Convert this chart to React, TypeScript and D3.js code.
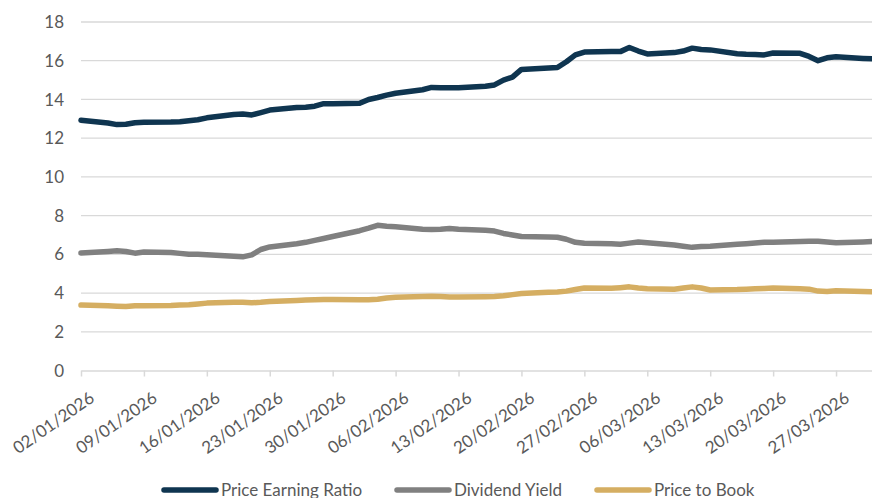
import React, { useEffect, useRef } from 'react';
import * as d3 from 'd3';

// trading days, Jan-Mar 2026
const dates = [
  '02/01/2026',
  '05/01/2026', '06/01/2026', '07/01/2026', '08/01/2026', '09/01/2026',
  '12/01/2026', '13/01/2026', '14/01/2026', '15/01/2026', '16/01/2026',
  '19/01/2026', '20/01/2026', '21/01/2026', '22/01/2026', '23/01/2026',
  '26/01/2026', '27/01/2026', '28/01/2026', '29/01/2026', '30/01/2026',
  '02/02/2026', '03/02/2026', '04/02/2026', '05/02/2026', '06/02/2026',
  '09/02/2026', '10/02/2026', '11/02/2026', '12/02/2026', '13/02/2026',
  '16/02/2026', '17/02/2026', '18/02/2026', '19/02/2026', '20/02/2026',
  '23/02/2026', '24/02/2026', '25/02/2026', '26/02/2026', '27/02/2026',
  '02/03/2026', '03/03/2026', '04/03/2026', '05/03/2026', '06/03/2026',
  '09/03/2026', '10/03/2026', '11/03/2026', '12/03/2026', '13/03/2026',
  '16/03/2026', '17/03/2026', '18/03/2026', '19/03/2026', '20/03/2026',
  '23/03/2026', '24/03/2026', '25/03/2026', '26/03/2026', '27/03/2026',
  '30/03/2026', '31/03/2026',
];

const priceEarning = [
  12.92,
  12.78, 12.7, 12.72, 12.8, 12.82,
  12.83, 12.85, 12.9, 12.95, 13.05,
  13.22, 13.25, 13.2, 13.32, 13.45,
  13.58, 13.6, 13.65, 13.78, 13.78,
  13.8, 14.0, 14.1, 14.22, 14.32,
  14.5, 14.62, 14.6, 14.6, 14.6,
  14.68, 14.75, 15.0, 15.15, 15.55,
  15.62, 15.65, 15.95, 16.3, 16.45,
  16.47, 16.47, 16.68, 16.5, 16.35,
  16.42, 16.5, 16.65, 16.58, 16.56,
  16.36, 16.33, 16.32, 16.3, 16.4,
  16.38, 16.22, 16.0, 16.15, 16.2,
  16.12, 16.1,
];

const dividendYield = [
  6.07,
  6.15, 6.18, 6.15, 6.06, 6.12,
  6.1, 6.05, 6.0, 6.0, 5.98,
  5.9, 5.87, 5.97, 6.25, 6.38,
  6.55, 6.62, 6.72, 6.82, 6.92,
  7.22, 7.35, 7.5, 7.45, 7.42,
  7.3, 7.28, 7.3, 7.34, 7.3,
  7.24, 7.2, 7.08, 7.0, 6.92,
  6.9, 6.88, 6.78, 6.62, 6.57,
  6.55, 6.52, 6.58, 6.64, 6.6,
  6.48, 6.42, 6.36, 6.4, 6.42,
  6.52, 6.55, 6.58, 6.62, 6.63,
  6.66, 6.67, 6.68, 6.64, 6.6,
  6.64, 6.66,
];

const priceToBook = [
  3.38,
  3.34, 3.32, 3.3, 3.34, 3.35,
  3.36, 3.38, 3.4, 3.44, 3.48,
  3.52, 3.52, 3.5, 3.52, 3.56,
  3.62, 3.64, 3.66, 3.67, 3.67,
  3.65, 3.66, 3.68, 3.74, 3.78,
  3.82, 3.84, 3.82, 3.8, 3.8,
  3.81, 3.82, 3.86, 3.92, 3.98,
  4.04, 4.06, 4.1, 4.18, 4.26,
  4.25, 4.28, 4.32, 4.26, 4.22,
  4.2, 4.26, 4.32, 4.26, 4.16,
  4.18, 4.2, 4.22, 4.24, 4.26,
  4.22, 4.2, 4.1, 4.08, 4.12,
  4.08, 4.07,
];

const yTicks = [0, 2, 4, 6, 8, 10, 12, 14, 16, 18];

const seriesNames = ['Price Earning Ratio', 'Dividend Yield', 'Price to Book'];
const seriesColors = ['#0f3550', '#808080', '#d5ae62'];

const App = () => {
  const ref = useRef(null);

  useEffect(() => {
    const width = 872;
    const height = 498;
    const margin = { top: 22, right: 0, bottom: 127.5, left: 81 };
    const font = 'Lato, "Liberation Sans", sans-serif';

    const parse = d3.timeParse('%d/%m/%Y');
    const fmt = d3.timeFormat('%d/%m/%Y');
    const xs = dates.map((d) => parse(d));

    const svg = d3.select(ref.current);
    svg.selectAll('*').remove();

    const x = d3
      .scaleTime()
      .domain([xs[0], xs[xs.length - 1]])
      .range([margin.left, width - margin.right]);
    const y = d3
      .scaleLinear()
      .domain([0, 18])
      .range([height - margin.bottom, margin.top]);

    // gridlines
    svg
      .append('g')
      .selectAll('line')
      .data(yTicks.filter((t) => t > 0))
      .enter()
      .append('line')
      .attr('x1', margin.left)
      .attr('x2', width - margin.right)
      .attr('y1', (d) => y(d))
      .attr('y2', (d) => y(d))
      .attr('stroke', '#d9d9d9')
      .attr('stroke-width', 1.3);

    // y labels
    svg
      .append('g')
      .selectAll('text')
      .data(yTicks)
      .enter()
      .append('text')
      .attr('x', 64)
      .attr('y', (d) => y(d))
      .attr('dy', '0.36em')
      .attr('text-anchor', 'end')
      .style('font-family', font)
      .style('font-size', '17px')
      .style('fill', '#595959')
      .text((d) => d);

    // x axis, a tick every 7 days from the first date
    const xTicks = d3.timeDay.range(xs[0], d3.timeDay.offset(xs[xs.length - 1], 1), 7);
    const xAxis = svg
      .append('g')
      .attr('transform', `translate(0,${y(0)})`)
      .call(d3.axisBottom(x).tickValues(xTicks).tickFormat(fmt).tickSizeInner(6).tickSizeOuter(0));

    xAxis.select('.domain').attr('stroke', '#d9d9d9').attr('stroke-width', 1.5);
    xAxis.selectAll('.tick line').attr('stroke', '#d9d9d9').attr('stroke-width', 1.5);
    xAxis
      .selectAll('.tick text')
      .attr('y', 0)
      .attr('dy', 0)
      .attr('transform', 'translate(14,30) rotate(-35)')
      .style('text-anchor', 'end')
      .style('font-family', font)
      .style('font-size', '17px')
      .style('fill', '#595959');

    // lines
    const line = d3
      .line()
      .x((d, i) => x(xs[i]))
      .y((d) => y(d));

    [priceEarning, dividendYield, priceToBook].forEach((values, i) => {
      svg
        .append('path')
        .datum(values)
        .attr('fill', 'none')
        .attr('stroke', seriesColors[i])
        .attr('stroke-width', 5.5)
        .attr('stroke-linejoin', 'round')
        .attr('stroke-linecap', 'round')
        .attr('d', line);
    });

    // legend
    const legendX = [162, 395, 595];
    const legend = svg.append('g');
    seriesNames.forEach((name, i) => {
      legend
        .append('line')
        .attr('x1', legendX[i] + 2)
        .attr('x2', legendX[i] + 54)
        .attr('y1', 490)
        .attr('y2', 490)
        .attr('stroke', seriesColors[i])
        .attr('stroke-width', 5.5)
        .attr('stroke-linecap', 'round');
      legend
        .append('text')
        .attr('x', legendX[i] + 59)
        .attr('y', 495.5)
        .style('font-family', font)
        .style('font-size', '17px')
        .style('fill', '#595959')
        .text(name);
    });
  }, []);

  return (
    <svg
      ref={ref}
      width={872}
      height={498}
      style={{ position: 'absolute', left: 0, top: 0, background: '#ffffff' }}
    />
  );
};

export default App;
